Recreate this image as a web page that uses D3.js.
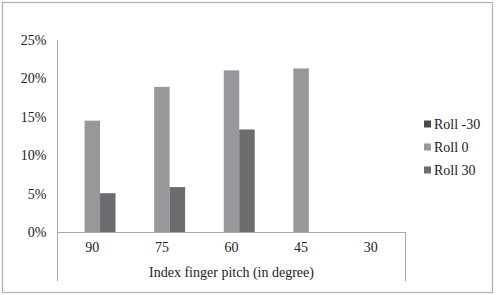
<!DOCTYPE html>
<html>
<head>
<meta charset="utf-8">
<script src="https://cdn.jsdelivr.net/npm/d3@7"></script>
<style>
  body { margin: 0; background: #fff; }
</style>
</head>
<body>
<div id="chart"></div>
<script>
var categories = ["90", "75", "60", "45", "30"];
var seriesNames = ["Roll -30", "Roll 0", "Roll 30"];
var rollMinus30 = [null, null, null, null, null];
var roll0 = [0.145, 0.189, 0.2105, 0.213, null];
var roll30 = [0.0505, 0.0585, 0.1335, null, null];
var yTicks = [0, 0.05, 0.10, 0.15, 0.20, 0.25];
var xTitle = "Index finger pitch (in degree)";

var colors = ["#4b4b4d", "#98989c", "#6c6c6e"];
var series = [rollMinus30, roll0, roll30];
var serif = "'Liberation Serif', 'DejaVu Serif', serif";

var W = 496, H = 295;
var svg = d3.select("#chart").append("svg")
  .attr("width", W)
  .attr("height", H);

// outer frame
svg.append("rect")
  .attr("x", 2.5).attr("y", 2.5)
  .attr("width", 490).attr("height", 290)
  .attr("fill", "none")
  .attr("stroke", "#b3b3b3")
  .attr("stroke-width", 1.3);

var pLeft = 57.5, pRight = 405.5, pTop = 40, pBase = 232;

var scX = d3.scaleBand().domain(categories).range([pLeft, pRight]).paddingInner(0).paddingOuter(0);
var scY = d3.scaleLinear().domain([0, 0.25]).range([pBase, pTop]);
// 3 bars per group, gap width 150%
var scSub = d3.scaleBand().domain(d3.range(3)).range([0, scX.bandwidth()]).paddingInner(0).paddingOuter(0.75);

// bars
series.forEach(function(vals, si) {
  var data = categories.map((c, i) => ({ c: c, v: vals[i] })).filter(d => d.v != null);
  svg.append("g").selectAll("rect")
    .data(data)
    .enter()
    .append("rect")
    .attr("x", d => scX(d.c) + scSub(si))
    .attr("y", d => scY(d.v))
    .attr("width", scSub.bandwidth())
    .attr("height", d => pBase - scY(d.v))
    .attr("fill", colors[si]);
});

// y axis
var yAxis = svg.append("g")
  .attr("transform", `translate(${pLeft}, 0)`)
  .call(d3.axisLeft(scY).tickValues(yTicks).tickSize(0).tickPadding(11).tickFormat(d3.format(".0%")));
yAxis.select(".domain").remove();

// axis lines
var lineCol = "#a9a9a9";
svg.append("line").attr("x1", pLeft).attr("x2", pLeft).attr("y1", pTop).attr("y2", 281)
  .attr("stroke", lineCol);
svg.append("line").attr("x1", pRight).attr("x2", pRight).attr("y1", pBase).attr("y2", 281)
  .attr("stroke", lineCol);
svg.append("line").attr("x1", pLeft).attr("x2", pRight).attr("y1", pBase + 0.5).attr("y2", pBase + 0.5)
  .attr("stroke", lineCol);

// x axis labels
var xAxis = svg.append("g")
  .attr("transform", `translate(0, ${pBase})`)
  .call(d3.axisBottom(scX).tickSize(0).tickPadding(10));
xAxis.select(".domain").remove();

svg.append("text")
  .attr("x", (pLeft + pRight) / 2)
  .attr("y", 277)
  .attr("text-anchor", "middle")
  .text(xTitle);

// legend
var lg = svg.append("g").selectAll("g")
  .data(seriesNames)
  .enter()
  .append("g")
  .attr("transform", (d, i) => `translate(424, ${124 + i * 23})`);
lg.append("rect")
  .attr("x", 0).attr("y", -3.5)
  .attr("width", 7).attr("height", 7)
  .attr("fill", (d, i) => colors[i]);
lg.append("text")
  .attr("x", 10).attr("y", 5)
  .text(d => d);

svg.selectAll("text")
  .style("font-family", serif)
  .style("font-size", "14px")
  .attr("fill", "#222");
</script>
</body>
</html>
